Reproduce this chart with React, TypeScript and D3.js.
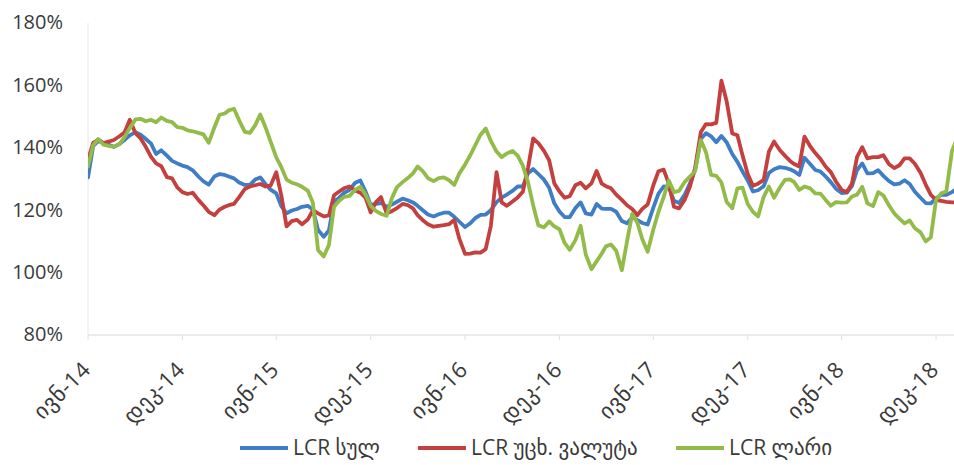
import React from "react";
import * as d3 from "d3";

const W = 954;
const H = 465;

// Axis labels
const tickDates = [
  "2014-06-01", "2014-12-01", "2015-06-01", "2015-12-01", "2016-06-01",
  "2016-12-01", "2017-06-01", "2017-12-01", "2018-06-01", "2018-12-01",
];
const tickLabels = [
  "ივნ-14", "დეკ-14", "ივნ-15", "დეკ-15", "ივნ-16",
  "დეკ-16", "ივნ-17", "დეკ-17", "ივნ-18", "დეკ-18",
];
const yTicks = [80, 100, 120, 140, 160, 180];

const seriesNames = ["LCR სულ", "LCR უცხ. ვალუტა", "LCR ლარი"];
const seriesColors = ["#3F7DC4", "#C3403F", "#93BB4A"];

// LCR, % — observations on the 1st, 11th and 21st of each month from June 2014
const lcrTotal = [
  130.5, 140.5, 142.2, 141.5, 141, 140.3, 141.2, 142.6, 144, 145,
  144.2, 142.8, 141.4, 138, 139.2, 137.5, 135.8, 135, 134.3, 133.8,
  132.8, 130.8, 129.2, 128.2, 130.8, 131.6, 131.3, 130.8, 130.2, 128.9,
  128.1, 128.1, 129.8, 130.5, 128.4, 126.6, 125.4, 121.2, 119, 119.9,
  120.4, 121.1, 121.4, 120.2, 113.7, 111.5, 113.5, 122.7, 124, 125.6,
  126.5, 128.8, 129.5, 126, 121.7, 122, 122.3, 121.1, 121.8, 122.7,
  123.7, 123.2, 122.5, 121.4, 120, 118.6, 118, 118.7, 119.2, 119.2,
  117.9, 116.3, 114.6, 115.8, 117.5, 118.5, 118.6, 120, 122.6, 124,
  125, 126.2, 127.6, 127.6, 131.8, 133.2, 131.6, 129.8, 127.2, 122.2,
  119.6, 117.8, 117.8, 120.7, 122.5, 119, 118.6, 122, 120.5, 120.4,
  120.4, 119.5, 116.5, 115.8, 117.7, 116.8, 115.9, 115.4, 120.8, 125.3,
  127.6, 127.4, 123, 122.3, 125, 128.6, 133, 142.8, 144.7, 143.7,
  141.8, 143.8, 141.8, 138, 135.5, 132.4, 129.5, 126, 126.4, 127.7,
  131.9, 133.1, 133.8, 133.6, 133.1, 132.5, 131.3, 136.8, 134.8, 132.9,
  132.4, 130.8, 129, 126.9, 125.5, 125.6, 127.7, 132.9, 135, 131.8,
  131.9, 132.8, 131, 129.3, 128.3, 128.5, 129.6, 128.4, 125.9, 124,
  122.3, 122.2, 123.8, 124.9, 124.9, 125.8, 127,
];

const lcrFx = [
  136, 141.6, 142.6, 141.5, 142, 142.5, 143.7, 145, 149, 144.7,
  143, 140.3, 137.2, 135, 134.1, 130.6, 130.2, 127.3, 125.8, 125.2,
  125.6, 123.3, 121.5, 119.5, 118.4, 120.2, 121.1, 121.6, 122, 124.2,
  126.8, 127.6, 128, 128.4, 127.6, 127.9, 132.2, 124.5, 114.8, 116.5,
  116.9, 115.5, 117, 120, 119, 118, 118.3, 124.8, 126, 127.1,
  127.6, 126.3, 125.6, 124, 119.3, 122.5, 124.2, 119, 119.7, 120.7,
  122, 121.6, 120.6, 118.4, 116.8, 115.5, 114.7, 115, 115.2, 115.5,
  116.9, 110.8, 106, 106.1, 106.5, 106.4, 107.5, 115, 132.2, 122.5,
  121.4, 122.8, 124.1, 125.9, 133.5, 143, 141.5, 139, 136, 128.6,
  126, 124, 124.5, 128, 128.8, 127, 128.6, 132.6, 128.5, 127.7,
  127, 125, 123.3, 121.6, 120.4, 118.4, 120.5, 121.8, 128, 132.5,
  133, 128.5, 121.1, 120.6, 123.4, 127.6, 133.5, 145, 147.6, 147.5,
  148, 161.5, 155, 144.6, 144, 137.5, 131.6, 127.8, 128.5, 129.7,
  138.8, 142, 139.3, 137.5, 135.8, 134.8, 134, 143.6, 140.5, 138.3,
  136.4, 134, 132.2, 129.2, 126.5, 125.8, 128.5, 137.1, 140.2, 136.6,
  137, 137, 137.6, 134.7, 133.5, 134.4, 136.6, 136.6, 134.9, 132,
  128.2, 124.9, 123.3, 123, 122.7, 122.5, 122.5,
];

const lcrGel = [
  134, 140.8, 142.8, 141, 140.6, 140.3, 141.2, 143.5, 146.3, 149.1,
  149.3, 148.5, 149, 148.2, 149.7, 148.6, 148.2, 146.6, 146.4, 145.6,
  145.3, 144.8, 144.3, 141.6, 146.5, 150.6, 151, 152, 152.5, 148.8,
  145.1, 144.8, 147.2, 150.7, 146.6, 142, 136.9, 133.7, 129.8, 128.8,
  128.3, 127.5, 126.3, 122.4, 107.2, 105.2, 108.8, 121.1, 123, 124.3,
  124.6, 126.5, 127.5, 125, 121.4, 119.8, 118.8, 118.2, 123.8, 127.4,
  129, 130.3, 131.8, 134, 132.5, 130.3, 129.3, 130.3, 130.5, 129.6,
  128.1, 131.8, 134.6, 137.6, 140.9, 144.2, 146.2, 142.2, 138.8, 137,
  138.2, 139, 137.5, 134.3, 129, 121.6, 115.2, 114.5, 116.4, 114.8,
  113.9, 109.5, 107.3, 110.4, 115, 105.8, 101.1, 103.6, 106.1, 108.4,
  109, 107, 100.8, 110, 118.8, 116, 110.5, 106.7, 113.8, 119.5,
  124.2, 129.5, 125.8, 126.2, 129.1, 130.8, 132.5, 142.5, 138.6, 131.3,
  131, 128.9, 122.7, 120.6, 127, 127.2, 122, 119.5, 118, 124.3,
  127.6, 124, 127.2, 129.7, 129.9, 129, 126.5, 127.6, 127, 125.4,
  125.3, 123.3, 121.4, 122.6, 122.4, 122.5, 124.4, 125, 127.5, 122.2,
  121.3, 125.8, 124.7, 121.5, 119, 117.3, 115.8, 116.7, 114.2, 112.9,
  110, 111.3, 123.3, 125.4, 126, 139, 143,
];

const dates = d3
  .range(lcrTotal.length)
  .map((i) => new Date(2014, 5 + Math.floor(i / 3), 1 + 10 * (i % 3)));

const series = [lcrTotal, lcrFx, lcrGel];

const PLOT_LEFT = 88;
const PLOT_TOP = 23;
const PLOT_BOTTOM = 335;

const x = d3
  .scaleTime()
  .domain([new Date(2014, 5, 1), new Date(2018, 11, 1)])
  .range([88, 936]);
const y = d3.scaleLinear().domain([80, 180]).range([PLOT_BOTTOM, PLOT_TOP]);

const line = d3
  .line<number>()
  .x((_, i) => x(dates[i]))
  .y((v) => y(v));

const FONT = "'Open Sans', 'DejaVu Sans', sans-serif";
const TEXT = "#3a3a3a";

export default function App() {
  const legendItems = [
    { x: 240, label: seriesNames[0], color: seriesColors[0] },
    { x: 418, label: seriesNames[1], color: seriesColors[1] },
    { x: 676, label: seriesNames[2], color: seriesColors[2] },
  ];
  return (
    <div style={{ position: "absolute", left: 0, top: 0 }}>
      <svg width={W} height={H} style={{ display: "block", background: "#fff" }}>
        <defs>
          <clipPath id="plot">
            <rect x={PLOT_LEFT} y={0} width={W - PLOT_LEFT} height={H} />
          </clipPath>
        </defs>
        {/* value axis */}
        <line x1={PLOT_LEFT} x2={PLOT_LEFT} y1={PLOT_TOP} y2={PLOT_BOTTOM} stroke="#e8e8e8" />
        {yTicks.map((t) => (
          <text
            key={t}
            x={63}
            y={y(t) + 1}
            textAnchor="end"
            dominantBaseline="middle"
            fontFamily={FONT}
            fontSize={20}
            fill={TEXT}
          >
            {`${t}%`}
          </text>
        ))}
        {/* date axis */}
        <line x1={PLOT_LEFT} x2={W} y1={PLOT_BOTTOM} y2={PLOT_BOTTOM} stroke="#d9d9d9" strokeWidth={1.2} />
        {tickDates.map((d, i) => {
          const tx = x(new Date(d + "T00:00:00"));
          return (
            <g key={d}>
              <line x1={tx} x2={tx} y1={PLOT_BOTTOM} y2={PLOT_BOTTOM + 5} stroke="#e0e0e0" />
              <text
                transform={`translate(${tx + 4},${PLOT_BOTTOM + 36}) rotate(-45)`}
                textAnchor="end"
                fontFamily={FONT}
                fontSize={22}
                letterSpacing={0.6}
                fill={TEXT}
              >
                {tickLabels[i]}
              </text>
            </g>
          );
        })}
        {/* series */}
        <g clipPath="url(#plot)">
          {series.map((s, i) => (
            <path
              key={i}
              d={line(s) ?? ""}
              fill="none"
              stroke={seriesColors[i]}
              strokeWidth={3.8}
              strokeLinejoin="round"
              strokeLinecap="round"
            />
          ))}
        </g>
        {/* legend */}
        {legendItems.map((it) => (
          <g key={it.label}>
            <line x1={it.x} x2={it.x + 48} y1={448} y2={448} stroke={it.color} strokeWidth={4} />
            <text
              x={it.x + 53}
              y={449}
              dominantBaseline="middle"
              fontFamily={FONT}
              fontSize={21}
              fill={TEXT}
            >
              {it.label}
            </text>
          </g>
        ))}
      </svg>
    </div>
  );
}
